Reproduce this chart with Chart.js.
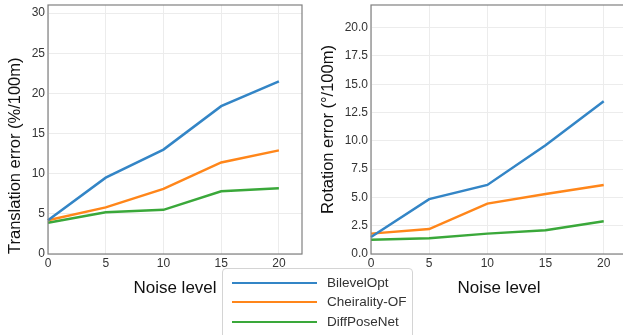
<!DOCTYPE html>
<html>
<head>
<meta charset="utf-8">
<script src="https://cdn.jsdelivr.net/npm/chart.js@4"></script>
<style>
  html, body { margin:0; padding:0; width:623px; height:335px; overflow:hidden; background:#fff; }
  #wrapL { position:absolute; left:0; top:0; width:320px; height:335px; }
  #wrapR { position:absolute; left:310px; top:0; width:320px; height:335px; }
  #legend { position:absolute; left:222px; top:268px; width:189px; height:80px;
    border:1px solid #d4d4d4; border-radius:4px; background:rgba(255,255,255,0.92);
    font-family:"Liberation Sans", Arial, sans-serif; font-size:13.5px; color:#333; }
  .item { position:absolute; left:0; height:20px; width:189px; }
  .sw { position:absolute; left:9px; width:85px; height:2px; top:9px; }
  .lb { position:absolute; left:104px; top:1px; line-height:18px; }
</style>
</head>
<body>
<div id="wrapL"><canvas id="cL" width="320" height="335"></canvas></div>
<div id="wrapR"><canvas id="cR" width="320" height="335"></canvas></div>
<div id="legend"></div>
<script>
// ---- data ----
const noiseLevels = [0, 5, 10, 15, 20];
const seriesNames = ["BilevelOpt", "Cheirality-OF", "DiffPoseNet"];
const seriesColors = ["#3385c6", "#ff861a", "#3aa83a"];
const transBilevel = [4.2, 9.5, 13.0, 18.4, 21.5];
const transCheirality = [4.2, 5.8, 8.1, 11.4, 12.9];
const transDiffPose = [3.9, 5.2, 5.5, 7.8, 8.2];
const rotBilevel = [1.5, 4.85, 6.1, 9.6, 13.5];
const rotCheirality = [1.8, 2.2, 4.45, 5.3, 6.1];
const rotDiffPose = [1.25, 1.4, 1.8, 2.1, 2.9];
const xTickValues = [0, 5, 10, 15, 20];
const leftYTickValues = [0, 5, 10, 15, 20, 25, 30];
const rightYTickValues = [0, 2.5, 5, 7.5, 10, 12.5, 15, 17.5, 20];

const FONT = "'Liberation Sans', Arial, sans-serif";

const frame = {
  id: 'frame',
  afterDatasetsDraw(chart) {
    const a = chart.chartArea, ctx = chart.ctx;
    ctx.save();
    ctx.strokeStyle = '#808080';
    ctx.lineWidth = 1.2;
    ctx.strokeRect(a.left, a.top, a.right - a.left, a.bottom - a.top);
    ctx.restore();
  }
};

function makeChart(id, seriesList, yTicks, yMax, yTitle, yFmt, yAxisW, yTitlePad, yAlign, padRight) {
  const datasets = seriesList.map((vals, i) => ({
    label: seriesNames[i],
    data: noiseLevels.map((x, j) => ({ x: x, y: vals[j] })),
    borderColor: seriesColors[i],
    backgroundColor: seriesColors[i],
    borderWidth: 2.5,
    pointRadius: 0,
    tension: 0,
    clip: false
  }));
  return new Chart(document.getElementById(id), {
    type: 'line',
    data: { datasets },
    plugins: [frame],
    options: {
      responsive: false,
      devicePixelRatio: 1,
      animation: false,
      layout: { padding: { left: 0, right: padRight, top: 5, bottom: 0 } },
      plugins: { legend: { display: false }, tooltip: { enabled: false } },
      scales: {
        x: {
          type: 'linear', min: 0, max: 22,
          afterBuildTicks: s => { s.ticks = xTickValues.map(v => ({ value: v })); },
          afterFit: s => { s.height = 81; s.paddingLeft = 0; s.paddingRight = 0; },
          grid: { color: '#ececec', lineWidth: 1, drawTicks: false },
          border: { display: false },
          ticks: { padding: 2, color: '#333', font: { family: FONT, size: 12 }, maxRotation: 0 },
          title: { display: true, text: 'Noise level', color: '#111',
                   font: { family: FONT, size: 17 }, padding: { top: 0, bottom: 36 } }
        },
        y: {
          type: 'linear', min: 0, max: yMax,
          afterBuildTicks: s => { s.ticks = yTicks.map(v => ({ value: v })); },
          afterFit: s => { s.width = yAxisW; s.paddingTop = 0; s.paddingBottom = 0; },
          grid: { color: '#ececec', lineWidth: 1, drawTicks: false },
          border: { display: false },
          ticks: { padding: 3, color: '#333', font: { family: FONT, size: 12 },
                   callback: v => yFmt(v) },
          title: { display: true, text: yTitle, color: '#111', align: yAlign,
                   font: { family: FONT, size: 16.5 }, padding: { top: yTitlePad, bottom: 0 } }
        }
      }
    }
  });
}

makeChart('cL', [transBilevel, transCheirality, transDiffPose], leftYTickValues, 31,
  'Translation error (%/100m)', v => String(v), 48, 6, 'start', 18);
makeChart('cR', [rotBilevel, rotCheirality, rotDiffPose], rightYTickValues, 22,
  'Rotation error (°/100m)', v => Number(v).toFixed(1), 61, 9, 'center', 3);

// legend
const lg = document.getElementById('legend');
const rowTops = [4, 23, 43];
seriesNames.forEach((n, i) => {
  const it = document.createElement('div');
  it.className = 'item';
  it.style.top = rowTops[i] + 'px';
  const sw = document.createElement('div');
  sw.className = 'sw';
  sw.style.background = seriesColors[i];
  const lb = document.createElement('div');
  lb.className = 'lb';
  lb.textContent = n;
  it.appendChild(sw); it.appendChild(lb);
  lg.appendChild(it);
});
</script>
</body>
</html>
